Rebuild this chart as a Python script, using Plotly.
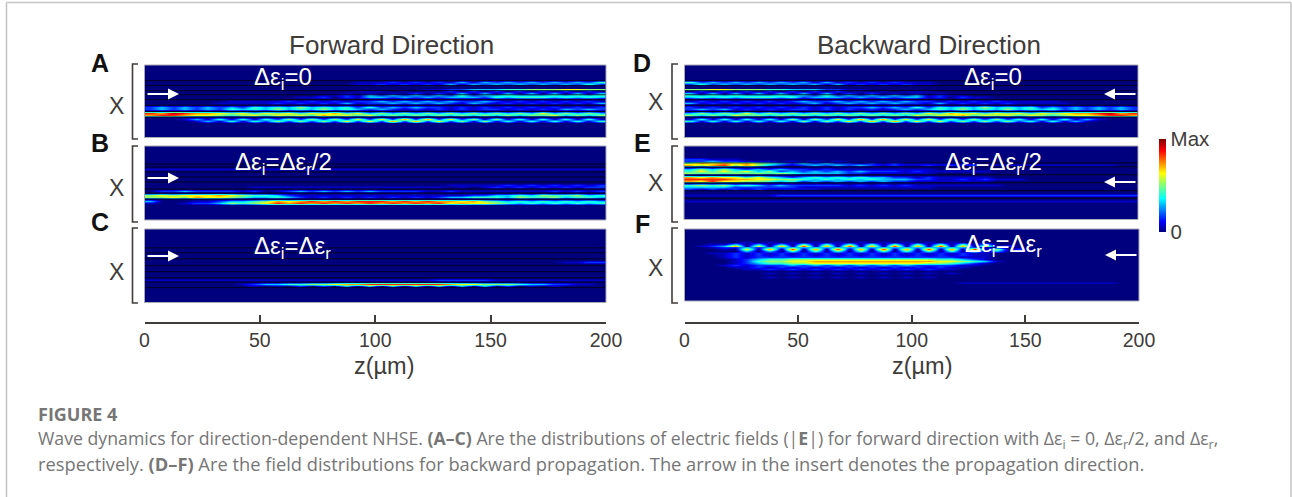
import plotly.graph_objects as go

W, H = 1292, 497

# Intensity levels for the digits in the row strings below
levels = [0, .06, .16, .3, .42, .52, .62, .72, .84, .95]
z_centers = [2.5 + 5 * i for i in range(40)]
x_rows = list(range(37))
z_ticks = [0, 50, 100, 150, 200]

panel_A = {
    8:  "0000000000 0000000011 1212121313 2323232324",
    9:  "0000000000 0000000011 2121213132 3232323242",
    12: "0000000000 0000000000 0000112233 3445556655",
    13: "0000000000 0000000011 1010102020 2020202020",
    14: "0000000000 0000000101 0102020303 0303030303",
    15: "0000000000 0000011213 2323232423 3433343434",
    16: "0000000000 0001120213 3232323332 4344434343",
    18: "0000000111 1121212122 3232323223 2121212121",
    19: "0000001111 1212121312 2323232132 1212121213",
    21: "2323232324 3435343424 2323221212 1212121212",
    22: "2323232434 3534353432 3212121212 2121213232",
    24: "8798776564 6564657463 5353535353 5353635353",
    25: "7887665456 4656475646 3535353535 3535463535",
    27: "0001314141 4252525262 6272726251 5141414141",
    28: "0000131414 2525252626 2727262515 1414141414",
}
panel_B = {
    11: "1111111111 1111111111 1111111111 1111111111",
    19: "0000000000 0000000000 0000001111 1212121212",
    20: "0000000001 1111111111 1111110101 2121212122",
    22: "0223222212 0123232323 2222112111 1111121212",
    24: "5656667654 4321111111 1111111122 3343544534",
    25: "5565766543 3432121212 1212123344 4354453443",
    27: "3000112334 5767878788 8787877675 4343434343",
    28: "1001223545 6878787878 7878786766 5434343434",
}
panel_C = {
    16: "0000000000 0000000000 0000000000 0000001122",
    25: "1111111111 1111111111 1111122222 1111111111",
    27: "0000000012 3344556778 8888887665 5543322110",
    28: "0000000001 0102020303 0303030303 0201010000",
}
panel_E = {
    6:  "2211100000 0000000000 0000000000 0000000000",
    7:  "2232211101 0101000000 0000000000 0000000000",
    8:  "5767675432 3232212121 1111110000 0000000000",
    9:  "7578575321 2323232121 1212121111 1111111100",
    11: "3535323232 2121111111 1100000000 0000000000",
    12: "4646463523 2323232221 2111111000 0000000000",
    13: "5454545454 3333221111 1100000000 0000000000",
    15: "7676646432 3434343322 1211111000 0000000000",
    16: "8888776655 4343434333 2211212111 0000000000",
    17: "7686655434 2323232322 1111111000 0000000000",
    19: "4545343232 2222121212 1111111100 0000000000",
    20: "3333222222 1111111111 1100000000 0000000000",
    21: "2121212111 1100000000 0000000000 0000000000",
    24: "1111111122 2222222222 2222222222 2222222222",
    27: "1111111111 1111111111 1111111111 1111111111",
}
panel_F = {
    6:  "0000010101 0101010101 0101000000 0000000000",
    7:  "0011303030 4040404040 4040403000 0000000000",
    8:  "0123706070 8070807080 7080706020 0000000000",
    9:  "0012232333 3333333333 3333321000 0000000000",
    10: "0001060708 0708070807 0807080502 0000000000",
    11: "0000030304 0404040404 0404040301 0000000000",
    12: "0011212121 2121212121 2121211000 0000000000",
    13: "0001212121 2121212121 2121211000 0000000000",
    14: "0001212222 2222222222 2222111000 0000000000",
    15: "0000123445 5555555555 5544321000 0000000000",
    16: "0000124556 6777777777 7766543100 0000000000",
    17: "0000123445 5666666666 6554321000 0000000000",
    18: "0001212223 2323232323 2222110000 0000000000",
    19: "0000112121 2121212121 2121100000 0000000000",
    20: "0000011212 1212121212 1211000000 0000000000",
    22: "0000000101 0101010101 0101000000 0000000000",
    24: "0000000101 0101010101 0100000000 0000000000",
    27: "0000000000 0000000000 0000111111 1111111100",
}

dark_A = [7.5, 10, 12.6, 14.7, 17.2, 20, 23.2, 26]
dark_B = [8.5, 10, 12.5, 15, 17.5, 21, 23, 26]
dark_C = [9, 11.5, 14.5, 18, 21, 24, 26.2, 29]
dark_D = dark_A
dark_E = [8, 10, 14, 18, 22, 25.8]
dark_F = []

titles = ["Forward Direction", "Backward Direction"]
axis_label = "z(µm)"
formula_0 = "Δε<sub>i</sub>=0"
formula_half = "Δε<sub>i</sub>=Δε<sub>r</sub>/2"
formula_full = "Δε<sub>i</sub>=Δε<sub>r</sub>"
caption_head = "FIGURE 4"
caption_1 = ("Wave dynamics for direction-dependent NHSE. <b>(A–C)</b> Are the distributions of electric fields "
             "(|<b>E</b>|) for forward direction with Δε<sub>i</sub> = 0, Δε<sub>r</sub>/2, and Δε<sub>r</sub>,")
caption_2 = ("respectively. <b>(D–F)</b> Are the field distributions for backward propagation. "
             "The arrow in the insert denotes the propagation direction.")

jet = [[0, "#00007f"], [.11, "#0000ff"], [.36, "#00ffff"], [.5, "#7dff7a"],
       [.63, "#ffff00"], [.875, "#ff0000"], [1, "#7f0000"]]


def px(x):
    return x / W


def py(y):
    return 1 - y / H


def matrix(rows):
    out = []
    for r in x_rows:
        s = rows.get(r, "").replace(" ", "").ljust(40, "0")
        out.append([levels[int(c)] for c in s[:40]])
    return out


panel_D = {r: s.replace(" ", "")[::-1] for r, s in panel_A.items()}

# name, data, dark lines, plot left/right/top/bottom (px)
panels = [
    ("A", panel_A, dark_A, 144.5, 606, 65, 137.5),
    ("B", panel_B, dark_B, 144.5, 606, 146, 220),
    ("C", panel_C, dark_C, 144.5, 606, 229, 302.5),
    ("D", panel_D, dark_D, 684.5, 1138, 65, 137.5),
    ("E", panel_E, dark_E, 684, 1138, 146, 219.5),
    ("F", panel_F, dark_F, 684.5, 1139, 229, 301),
]

fig = go.Figure()
layout = {}
shapes = []
ink = "#403c3a"
for i, (name, rows, dark, l, r, t, b) in enumerate(panels, start=1):
    sx = "" if i == 1 else str(i)
    fig.add_trace(go.Heatmap(
        z=matrix(rows), x=z_centers, y=x_rows, coloraxis="coloraxis",
        zsmooth="best", xaxis=f"x{sx}", yaxis=f"y{sx}", hoverinfo="skip",
    ))
    layout[f"yaxis{sx}"] = dict(domain=[py(b), py(t)], range=[36.5, -0.5], visible=False,
                                anchor=f"x{sx}", fixedrange=True)
    xa = dict(domain=[px(l), px(r)], range=[0, 200], anchor=f"y{sx}", visible=False, fixedrange=True)
    if name in "CF":
        xa.update(visible=True, anchor="free", position=py(322.5), showline=True, linecolor=ink, linewidth=1.6,
                  ticks="inside", ticklen=7, tickwidth=1.6, tickcolor=ink, tickvals=z_ticks, showgrid=False,
                  zeroline=False, automargin=False,
                  tickfont=dict(family="Liberation Sans", size=19.5, color=ink))
    layout[f"xaxis{sx}"] = xa
    for d in dark:
        shapes.append(dict(type="line", xref=f"x{sx} domain", yref=f"y{sx}", x0=0, x1=1, y0=d, y1=d,
                           line=dict(color="rgba(0,0,20,.85)", width=1)))
    shapes.append(dict(type="rect", xref="paper", yref="paper", x0=px(l), x1=px(r), y0=py(b), y1=py(t),
                       line=dict(color="#a9a9b5", width=1)))

# Left brackets of the x axes
brackets = [(132.5, 138, 64, 139), (132.5, 138, 146, 222), (132.5, 138, 228, 303),
            (672, 678, 64, 139), (672, 678, 146, 222), (672, 678, 228, 303)]
for x0, x1, y0, y1 in brackets:
    path = f"M {px(x1)} {py(y0)} L {px(x0)} {py(y0)} L {px(x0)} {py(y1)} L {px(x1)} {py(y1)}"
    shapes.append(dict(type="path", path=path, xref="paper", yref="paper", line=dict(color=ink, width=1.6)))

ann = []


def text(x, y, s, size, color=ink, family="Liberation Sans", anchor="center"):
    ann.append(dict(x=px(x), y=py(y), xref="paper", yref="paper", text=s, showarrow=False, xanchor=anchor,
                    yanchor="middle", font=dict(family=family, size=size, color=color), borderpad=0, borderwidth=0))


text(391, 45, titles[0], 26)
text(929, 45, titles[1], 26)
text(384.5, 366, axis_label, 23.5)
text(922, 366, axis_label, 23.5)
for s, x, y in [("A", 100, 63), ("B", 100, 143), ("C", 100, 222), ("D", 642, 63), ("E", 642, 143), ("F", 642, 224)]:
    text(x, y, f"<b>{s}</b>", 25, "#111111")
for x, y in [(116, 106), (116, 188), (116, 272), (655, 102), (655, 183), (655, 268)]:
    text(x, y, "X", 23)
for s, x, y in [(formula_0, 283, 78), (formula_half, 283, 163), (formula_full, 292, 248),
                (formula_0, 993, 78), (formula_half, 993, 163), (formula_full, 1003, 245)]:
    text(x, y, s, 24, "white")
for x0, x1, y in [(146, 179, 94), (146, 179, 178), (146, 179, 256),
                  (1137, 1104, 94), (1137, 1104, 182), (1138, 1105, 255)]:
    ann.append(dict(x=px(x1), y=py(y), ax=x0 - x1, ay=0, xref="paper", yref="paper", axref="pixel", ayref="pixel",
                    text="", showarrow=True, arrowcolor="white", arrowwidth=2, arrowhead=2, arrowsize=1.1))

cap = "#767676"
text(38, 414, f"<b>{caption_head}</b>", 18, cap, "Open Sans", "left")
text(38, 439, caption_1, 17.7, cap, "Open Sans", "left")
text(38, 463, caption_2, 18.3, cap, "Open Sans", "left")

border = dict(color="#c4c4c4", width=1.5)
shapes.append(dict(type="line", xref="paper", yref="paper", x0=px(6.5), x1=px(6.5), y0=0, y1=py(2.5), line=border))
shapes.append(dict(type="line", xref="paper", yref="paper", x0=px(1291), x1=px(1291), y0=0, y1=py(2.5), line=border))
shapes.append(dict(type="line", xref="paper", yref="paper", x0=px(6.5), x1=px(1291), y0=py(2.5), y1=py(2.5), line=border))

fig.update_layout(
    width=W, height=H, margin=dict(l=0, r=0, t=0, b=0, autoexpand=False), paper_bgcolor="white", plot_bgcolor="#00007f",
    showlegend=False, shapes=shapes, annotations=ann,
    coloraxis=dict(colorscale=jet, cmin=0, cmax=1, colorbar=dict(
        x=px(1159), xanchor="left", y=py(139), yanchor="top", lenmode="pixels", len=93, thickness=7,
        thicknessmode="pixels", xpad=0, ypad=0, outlinewidth=0, tickvals=[0, 1], ticktext=["0", "Max"],
        ticks="", tickfont=dict(family="Liberation Sans", size=20.5, color=ink))),
    **layout,
)
fig.write_html("out.html", config={"displayModeBar": False},
               post_script="document.body.style.margin='0';document.body.style.overflow='hidden';")
